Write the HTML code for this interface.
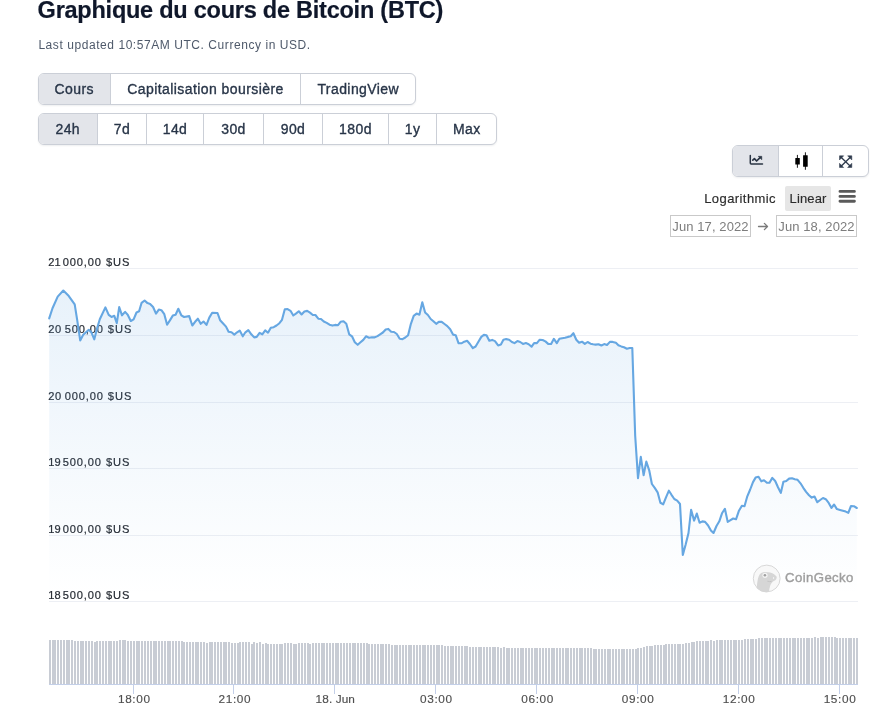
<!DOCTYPE html>
<html lang="fr">
<head>
<meta charset="utf-8">
<title>Graphique du cours de Bitcoin (BTC)</title>
<style>
*{box-sizing:border-box;margin:0;padding:0}
html,body{width:881px;height:722px;background:#fff;overflow:hidden}
body{position:relative;font-family:"Liberation Sans",sans-serif;color:#1e293b;-webkit-font-smoothing:antialiased}
.abs{position:absolute;white-space:nowrap}
h1{position:absolute;left:37.6px;top:-3.9px;-webkit-text-stroke:0.2px #0f172a;font-size:23.5px;line-height:28px;font-weight:700;color:#0f172a;letter-spacing:-0.24px;white-space:nowrap}
.sub{left:38.4px;top:37.4px;font-size:12px;line-height:16px;color:#4e596a;letter-spacing:0.56px}
.grp{position:absolute;height:32px;border:1px solid #cbcfd7;border-radius:6px;background:#fff;box-shadow:0 1px 2px rgba(15,23,42,.07);overflow:hidden}
.grp .c{position:absolute;top:0;height:30px;display:flex;align-items:center;justify-content:center;font-size:14px;color:#283548;letter-spacing:0.42px;-webkit-text-stroke:0.35px #283548;white-space:nowrap}
.grp .on{background:#e3e5ea}
.grp i{position:absolute;top:0;width:1px;height:30px;background:#cbcfd7}
.lg{font-size:13px;color:#2b2b2b;-webkit-text-stroke:0.15px #2b2b2b;letter-spacing:0.3px}
.dt{position:absolute;top:215px;height:22px;border:1px solid #c9c9c9;color:#7d7d7d;font-size:13px;line-height:21.2px;text-align:center;letter-spacing:0.1px;background:#fff}
svg text.yl{font-size:11.1px;fill:#262b33;stroke:#262b33;stroke-width:0.2px;white-space:pre}
svg text.xl{font-size:11.8px;fill:#4f4f4f;stroke:#4f4f4f;stroke-width:0.15px}
</style>
</head>
<body>
<h1>Graphique du cours de Bitcoin (BTC)</h1>
<div class="abs sub">Last updated 10:57AM UTC. Currency in USD.</div>

<div class="grp" style="left:38px;top:73px;width:378px">
<div class="c on" style="left:-1.00px;width:72.50px">Cours</div>
<div class="c" style="left:71.50px;width:190.00px">Capitalisation boursière</div>
<div class="c" style="left:261.50px;width:115.50px">TradingView</div>
<i style="left:71.00px"></i>
<i style="left:261.00px"></i>
</div>
<div class="grp" style="left:38px;top:113px;width:459px">
<div class="c on" style="left:-1.00px;width:59.50px">24h</div>
<div class="c" style="left:58.50px;width:49.00px">7d</div>
<div class="c" style="left:107.50px;width:57.00px">14d</div>
<div class="c" style="left:164.50px;width:60.00px">30d</div>
<div class="c" style="left:224.50px;width:59.00px">90d</div>
<div class="c" style="left:283.50px;width:66.00px">180d</div>
<div class="c" style="left:349.50px;width:48.00px">1y</div>
<div class="c" style="left:397.50px;width:60.50px">Max</div>
<i style="left:58.00px"></i>
<i style="left:107.00px"></i>
<i style="left:164.00px"></i>
<i style="left:224.00px"></i>
<i style="left:283.00px"></i>
<i style="left:349.00px"></i>
<i style="left:397.00px"></i>
</div>

<div class="grp" style="left:732px;top:145px;width:137px">
<div class="c on" style="left:-1.00px;width:46.50px"></div>
<div class="c" style="left:45.50px;width:44.00px"></div>
<div class="c" style="left:89.50px;width:46.50px"></div>
<i style="left:45.00px"></i>
<i style="left:89.00px"></i>
</div>

<div class="abs lg" style="left:704.2px;top:190.5px;line-height:16px;letter-spacing:0.42px">Logarithmic</div>
<div class="abs lg" style="left:785.2px;top:186.3px;width:45.8px;height:24.3px;background:#e6e6e6;border-radius:2px;line-height:24.3px;text-align:center;padding-top:0.3px;letter-spacing:0.15px">Linear</div>
<svg class="abs" style="left:838px;top:189px" width="19" height="15" viewBox="0 0 19 15"><path d="M2 2.4H16.4M2 7.4H16.4M2 12.3H16.4" stroke="#5a5a5a" stroke-width="2.9" stroke-linecap="round" fill="none"/></svg>

<div class="dt" style="left:670px;width:81px">Jun 17, 2022</div>
<svg class="abs" style="left:757px;top:221px" width="12" height="11" viewBox="0 0 12 11"><path d="M1.5 5.5H10.4M7.4 2.4L10.5 5.5L7.4 8.6" fill="none" stroke="#7a7a7a" stroke-width="1.3" stroke-linecap="round" stroke-linejoin="round"/></svg>
<div class="dt" style="left:776px;width:81px">Jun 18, 2022</div>

<svg class="abs" style="left:0;top:0" width="881" height="722" viewBox="0 0 881 722">
  <defs>
    <linearGradient id="ag" gradientUnits="userSpaceOnUse" x1="0" y1="270" x2="0" y2="596">
      <stop offset="0" stop-color="#5fa3e0" stop-opacity="0.155"/>
      <stop offset="1" stop-color="#5fa3e0" stop-opacity="0"/>
    </linearGradient>
  </defs>
  <path d="M49 268h809v1h-809zM49 335h809v1h-809zM49 402h809v1h-809zM49 468h809v1h-809zM49 535h809v1h-809zM49 601h809v1h-809z" fill="#edeff4" shape-rendering="crispEdges"/>
  <text x="48.3" y="266.0" class="yl"><tspan letter-spacing="0.0">21</tspan><tspan x="58.8" letter-spacing="0.85"> 000,00</tspan><tspan x="101.8" letter-spacing="1"> $US</tspan></text><text x="48.3" y="333.0" class="yl"><tspan letter-spacing="0.55">20</tspan><tspan x="60.8" letter-spacing="0.85"> 500,00</tspan><tspan x="103.7" letter-spacing="1"> $US</tspan></text><text x="48.3" y="400.0" class="yl"><tspan letter-spacing="0.55">20</tspan><tspan x="60.8" letter-spacing="0.85"> 000,00</tspan><tspan x="103.7" letter-spacing="1"> $US</tspan></text><text x="48.3" y="466.0" class="yl"><tspan letter-spacing="0.0">19</tspan><tspan x="58.8" letter-spacing="0.85"> 500,00</tspan><tspan x="101.8" letter-spacing="1"> $US</tspan></text><text x="48.3" y="533.0" class="yl"><tspan letter-spacing="0.0">19</tspan><tspan x="58.8" letter-spacing="0.85"> 000,00</tspan><tspan x="101.8" letter-spacing="1"> $US</tspan></text><text x="48.3" y="599.0" class="yl"><tspan letter-spacing="0.0">18</tspan><tspan x="58.8" letter-spacing="0.85"> 500,00</tspan><tspan x="101.8" letter-spacing="1"> $US</tspan></text>
  <path d="M49.2 318.4 L52.5 308.2 L57.7 296.6 L63.3 290.5 L68.8 296.1 L74.7 304.4 L77.1 319.3 L80.2 340.4 L83.2 334.8 L88.8 329.8 L91.5 332.6 L94.3 339.3 L97.1 328.2 L99.8 319.3 L105.4 307.4 L108.7 314.9 L111.5 316.9 L114.3 315.8 L116.8 323.2 L119.2 307.1 L122.0 315.3 L125.1 311.9 L127.7 314.7 L130.8 321.0 L133.6 319.3 L136.5 312.5 L139.1 311.3 L141.6 302.8 L144.6 300.5 L147.5 303.1 L150.1 303.9 L153.1 307.0 L156.0 313.6 L158.8 309.6 L161.4 310.2 L164.3 314.2 L167.1 324.7 L169.9 320.4 L172.8 315.6 L175.6 314.7 L178.3 308.8 L181.3 315.3 L184.1 317.0 L189.2 316.1 L192.3 325.5 L195.1 321.8 L197.9 318.7 L200.7 323.8 L203.5 321.5 L206.5 324.9 L209.3 317.6 L212.2 312.8 L217.5 313.0 L220.1 320.2 L222.9 323.2 L226.0 326.6 L228.6 331.8 L231.5 332.3 L234.3 334.6 L237.1 332.3 L239.7 330.6 L242.8 336.3 L245.4 332.3 L248.3 330.1 L251.3 334.3 L254.2 337.4 L256.7 336.9 L259.6 332.9 L262.3 334.3 L265.2 330.4 L268.0 332.7 L270.8 327.8 L273.7 327.2 L276.5 325.5 L279.4 323.2 L282.0 319.8 L284.8 309.3 L287.6 309.1 L290.5 310.8 L293.3 315.5 L296.2 313.4 L298.8 311.3 L301.6 314.5 L304.4 311.5 L307.2 310.9 L310.0 312.6 L312.8 315.0 L315.4 315.0 L318.3 318.7 L321.0 319.0 L323.8 321.5 L326.7 322.9 L329.5 324.7 L332.4 325.6 L335.2 324.9 L338.0 325.2 L340.6 321.8 L343.5 321.3 L346.3 323.8 L349.2 334.3 L352.0 336.3 L354.8 342.2 L357.7 344.8 L360.5 342.3 L363.3 339.9 L366.0 336.3 L369.0 337.7 L371.9 337.2 L374.7 337.4 L377.5 336.1 L380.1 334.3 L382.9 332.5 L385.7 329.5 L388.3 328.9 L391.2 331.8 L394.0 332.0 L396.8 334.0 L399.7 338.8 L402.5 339.1 L405.3 337.5 L408.1 335.2 L410.9 323.8 L413.7 315.9 L416.6 313.6 L419.4 314.7 L422.3 302.2 L425.1 312.5 L427.9 315.0 L430.7 319.0 L433.4 321.2 L436.2 323.8 L438.8 321.9 L441.7 321.9 L444.5 324.0 L447.3 326.1 L450.2 329.3 L453.0 334.6 L455.7 335.2 L458.6 343.3 L461.4 343.3 L464.3 341.7 L467.1 340.8 L469.9 344.0 L472.8 348.2 L475.6 346.5 L478.4 341.7 L481.3 336.9 L483.9 334.9 L486.5 335.2 L489.3 340.8 L492.2 339.9 L495.0 341.1 L498.1 345.4 L500.9 344.5 L503.4 339.8 L506.2 339.1 L509.1 339.7 L511.9 342.0 L514.5 343.1 L517.4 341.1 L520.2 342.0 L523.0 343.9 L525.9 343.1 L528.7 344.2 L531.6 346.7 L534.1 343.1 L536.9 343.1 L539.7 339.7 L542.6 340.0 L545.4 341.4 L548.2 343.9 L551.1 344.0 L553.9 338.8 L556.8 343.1 L559.4 338.8 L562.2 338.2 L565.0 337.8 L567.9 336.9 L570.7 336.3 L573.4 333.2 L576.3 339.7 L579.1 342.8 L582.0 341.7 L584.8 343.9 L587.6 342.0 L590.5 343.7 L593.1 344.2 L595.7 344.6 L598.5 344.2 L601.4 345.5 L604.2 344.1 L607.0 345.0 L609.9 341.9 L612.7 341.9 L615.9 342.7 L618.4 345.2 L621.2 346.4 L624.0 347.2 L626.9 348.7 L629.7 348.0 L632.3 348.0 L635.2 436.0 L638.0 478.2 L640.8 456.9 L643.6 475.2 L646.3 461.6 L649.3 470.7 L651.9 484.0 L654.9 488.2 L657.6 492.3 L660.4 502.8 L663.2 504.3 L666.0 497.3 L668.9 490.7 L671.5 494.8 L674.3 499.0 L677.2 500.6 L680.0 504.0 L682.8 555.0 L685.6 544.7 L688.5 533.0 L691.1 509.8 L694.1 520.6 L696.8 513.6 L699.6 522.7 L702.4 521.4 L705.1 521.9 L708.1 525.5 L710.9 530.5 L713.5 533.0 L716.5 526.0 L719.3 521.3 L722.0 513.3 L724.9 508.8 L727.7 521.9 L730.5 520.2 L733.2 518.5 L736.0 519.3 L738.8 511.1 L741.9 505.7 L744.5 506.3 L747.3 496.3 L750.2 489.5 L753.0 482.1 L755.6 477.6 L758.5 476.7 L761.3 481.3 L764.0 480.2 L766.9 482.7 L769.5 482.7 L772.3 477.9 L775.2 481.0 L778.0 487.2 L780.8 492.9 L783.4 481.8 L786.3 481.0 L789.1 478.6 L792.0 478.2 L794.8 479.2 L797.6 479.8 L800.5 483.3 L803.3 487.8 L806.1 491.9 L809.0 495.2 L811.7 497.6 L814.5 496.5 L817.3 502.2 L820.2 500.0 L823.0 498.0 L825.8 499.2 L828.7 502.9 L831.5 507.9 L834.1 504.5 L836.9 509.1 L840.0 509.9 L842.9 510.7 L845.7 511.6 L848.3 512.8 L851.0 506.0 L853.9 506.2 L856.8 508.0 L856.8 602 L49.2 602 Z" fill="url(#ag)" stroke="none"/>
  <path d="M49.2 318.4 L52.5 308.2 L57.7 296.6 L63.3 290.5 L68.8 296.1 L74.7 304.4 L77.1 319.3 L80.2 340.4 L83.2 334.8 L88.8 329.8 L91.5 332.6 L94.3 339.3 L97.1 328.2 L99.8 319.3 L105.4 307.4 L108.7 314.9 L111.5 316.9 L114.3 315.8 L116.8 323.2 L119.2 307.1 L122.0 315.3 L125.1 311.9 L127.7 314.7 L130.8 321.0 L133.6 319.3 L136.5 312.5 L139.1 311.3 L141.6 302.8 L144.6 300.5 L147.5 303.1 L150.1 303.9 L153.1 307.0 L156.0 313.6 L158.8 309.6 L161.4 310.2 L164.3 314.2 L167.1 324.7 L169.9 320.4 L172.8 315.6 L175.6 314.7 L178.3 308.8 L181.3 315.3 L184.1 317.0 L189.2 316.1 L192.3 325.5 L195.1 321.8 L197.9 318.7 L200.7 323.8 L203.5 321.5 L206.5 324.9 L209.3 317.6 L212.2 312.8 L217.5 313.0 L220.1 320.2 L222.9 323.2 L226.0 326.6 L228.6 331.8 L231.5 332.3 L234.3 334.6 L237.1 332.3 L239.7 330.6 L242.8 336.3 L245.4 332.3 L248.3 330.1 L251.3 334.3 L254.2 337.4 L256.7 336.9 L259.6 332.9 L262.3 334.3 L265.2 330.4 L268.0 332.7 L270.8 327.8 L273.7 327.2 L276.5 325.5 L279.4 323.2 L282.0 319.8 L284.8 309.3 L287.6 309.1 L290.5 310.8 L293.3 315.5 L296.2 313.4 L298.8 311.3 L301.6 314.5 L304.4 311.5 L307.2 310.9 L310.0 312.6 L312.8 315.0 L315.4 315.0 L318.3 318.7 L321.0 319.0 L323.8 321.5 L326.7 322.9 L329.5 324.7 L332.4 325.6 L335.2 324.9 L338.0 325.2 L340.6 321.8 L343.5 321.3 L346.3 323.8 L349.2 334.3 L352.0 336.3 L354.8 342.2 L357.7 344.8 L360.5 342.3 L363.3 339.9 L366.0 336.3 L369.0 337.7 L371.9 337.2 L374.7 337.4 L377.5 336.1 L380.1 334.3 L382.9 332.5 L385.7 329.5 L388.3 328.9 L391.2 331.8 L394.0 332.0 L396.8 334.0 L399.7 338.8 L402.5 339.1 L405.3 337.5 L408.1 335.2 L410.9 323.8 L413.7 315.9 L416.6 313.6 L419.4 314.7 L422.3 302.2 L425.1 312.5 L427.9 315.0 L430.7 319.0 L433.4 321.2 L436.2 323.8 L438.8 321.9 L441.7 321.9 L444.5 324.0 L447.3 326.1 L450.2 329.3 L453.0 334.6 L455.7 335.2 L458.6 343.3 L461.4 343.3 L464.3 341.7 L467.1 340.8 L469.9 344.0 L472.8 348.2 L475.6 346.5 L478.4 341.7 L481.3 336.9 L483.9 334.9 L486.5 335.2 L489.3 340.8 L492.2 339.9 L495.0 341.1 L498.1 345.4 L500.9 344.5 L503.4 339.8 L506.2 339.1 L509.1 339.7 L511.9 342.0 L514.5 343.1 L517.4 341.1 L520.2 342.0 L523.0 343.9 L525.9 343.1 L528.7 344.2 L531.6 346.7 L534.1 343.1 L536.9 343.1 L539.7 339.7 L542.6 340.0 L545.4 341.4 L548.2 343.9 L551.1 344.0 L553.9 338.8 L556.8 343.1 L559.4 338.8 L562.2 338.2 L565.0 337.8 L567.9 336.9 L570.7 336.3 L573.4 333.2 L576.3 339.7 L579.1 342.8 L582.0 341.7 L584.8 343.9 L587.6 342.0 L590.5 343.7 L593.1 344.2 L595.7 344.6 L598.5 344.2 L601.4 345.5 L604.2 344.1 L607.0 345.0 L609.9 341.9 L612.7 341.9 L615.9 342.7 L618.4 345.2 L621.2 346.4 L624.0 347.2 L626.9 348.7 L629.7 348.0 L632.3 348.0 L635.2 436.0 L638.0 478.2 L640.8 456.9 L643.6 475.2 L646.3 461.6 L649.3 470.7 L651.9 484.0 L654.9 488.2 L657.6 492.3 L660.4 502.8 L663.2 504.3 L666.0 497.3 L668.9 490.7 L671.5 494.8 L674.3 499.0 L677.2 500.6 L680.0 504.0 L682.8 555.0 L685.6 544.7 L688.5 533.0 L691.1 509.8 L694.1 520.6 L696.8 513.6 L699.6 522.7 L702.4 521.4 L705.1 521.9 L708.1 525.5 L710.9 530.5 L713.5 533.0 L716.5 526.0 L719.3 521.3 L722.0 513.3 L724.9 508.8 L727.7 521.9 L730.5 520.2 L733.2 518.5 L736.0 519.3 L738.8 511.1 L741.9 505.7 L744.5 506.3 L747.3 496.3 L750.2 489.5 L753.0 482.1 L755.6 477.6 L758.5 476.7 L761.3 481.3 L764.0 480.2 L766.9 482.7 L769.5 482.7 L772.3 477.9 L775.2 481.0 L778.0 487.2 L780.8 492.9 L783.4 481.8 L786.3 481.0 L789.1 478.6 L792.0 478.2 L794.8 479.2 L797.6 479.8 L800.5 483.3 L803.3 487.8 L806.1 491.9 L809.0 495.2 L811.7 497.6 L814.5 496.5 L817.3 502.2 L820.2 500.0 L823.0 498.0 L825.8 499.2 L828.7 502.9 L831.5 507.9 L834.1 504.5 L836.9 509.1 L840.0 509.9 L842.9 510.7 L845.7 511.6 L848.3 512.8 L851.0 506.0 L853.9 506.2 L856.8 508.0" fill="none" stroke="#66a7e2" stroke-width="2.1" stroke-linejoin="round" stroke-linecap="round"/>
  <path d="M49 684V640h2V684zM52 684V640h2V684zM54 684V640h2V684zM57 684V640h2V684zM60 684V640h2V684zM63 684V640h2V684zM66 684V640h2V684zM68 684V640h2V684zM71 684V640h2V684zM74 684V641h2V684zM77 684V641h2V684zM80 684V641h2V684zM82 684V641h2V684zM85 684V641h2V684zM88 684V641h2V684zM91 684V641h2V684zM94 684V642h2V684zM96 684V641h2V684zM99 684V641h2V684zM102 684V641h2V684zM105 684V641h2V684zM108 684V641h2V684zM110 684V641h2V684zM113 684V641h2V684zM116 684V641h2V684zM119 684V640h2V684zM122 684V640h2V684zM124 684V640h2V684zM127 684V641h2V684zM130 684V641h2V684zM133 684V641h2V684zM136 684V641h2V684zM138 684V641h2V684zM141 684V641h2V684zM144 684V641h2V684zM147 684V641h2V684zM150 684V641h2V684zM153 684V641h2V684zM155 684V641h2V684zM158 684V641h2V684zM161 684V641h2V684zM164 684V641h2V684zM167 684V641h2V684zM169 684V641h2V684zM172 684V641h2V684zM175 684V641h2V684zM178 684V641h2V684zM181 684V641h2V684zM183 684V642h2V684zM186 684V642h2V684zM189 684V642h2V684zM192 684V642h2V684zM195 684V642h2V684zM197 684V642h2V684zM200 684V642h2V684zM203 684V642h2V684zM206 684V643h2V684zM209 684V642h2V684zM211 684V642h2V684zM214 684V642h2V684zM217 684V642h2V684zM220 684V642h2V684zM223 684V642h2V684zM225 684V642h2V684zM228 684V642h2V684zM231 684V643h2V684zM234 684V643h2V684zM237 684V643h2V684zM239 684V642h2V684zM242 684V642h2V684zM245 684V642h2V684zM248 684V642h2V684zM251 684V644h2V684zM253 684V642h2V684zM256 684V643h2V684zM259 684V642h2V684zM262 684V644h2V684zM265 684V643h2V684zM267 684V644h2V684zM270 684V644h2V684zM273 684V644h2V684zM276 684V644h2V684zM279 684V644h2V684zM281 684V644h2V684zM284 684V643h2V684zM287 684V643h2V684zM290 684V643h2V684zM293 684V644h2V684zM295 684V644h2V684zM298 684V643h2V684zM301 684V643h2V684zM304 684V643h2V684zM307 684V643h2V684zM309 684V644h2V684zM312 684V643h2V684zM315 684V643h2V684zM318 684V643h2V684zM321 684V643h2V684zM323 684V643h2V684zM326 684V643h2V684zM329 684V643h2V684zM332 684V643h2V684zM335 684V643h2V684zM337 684V643h2V684zM340 684V643h2V684zM343 684V643h2V684zM346 684V643h2V684zM349 684V643h2V684zM352 684V643h2V684zM354 684V643h2V684zM357 684V643h2V684zM360 684V643h2V684zM363 684V643h2V684zM366 684V643h2V684zM368 684V644h2V684zM371 684V644h2V684zM374 684V644h2V684zM377 684V644h2V684zM380 684V644h2V684zM382 684V644h2V684zM385 684V644h2V684zM388 684V644h2V684zM391 684V645h2V684zM394 684V645h2V684zM396 684V645h2V684zM399 684V645h2V684zM402 684V645h2V684zM405 684V645h2V684zM408 684V645h2V684zM410 684V645h2V684zM413 684V645h2V684zM416 684V645h2V684zM419 684V645h2V684zM422 684V645h2V684zM424 684V645h2V684zM427 684V645h2V684zM430 684V645h2V684zM433 684V645h2V684zM436 684V645h2V684zM438 684V645h2V684zM441 684V645h2V684zM444 684V646h2V684zM447 684V646h2V684zM450 684V646h2V684zM452 684V646h2V684zM455 684V646h2V684zM458 684V646h2V684zM461 684V646h2V684zM464 684V646h2V684zM466 684V646h2V684zM469 684V647h2V684zM472 684V647h2V684zM475 684V647h2V684zM478 684V647h2V684zM480 684V647h2V684zM483 684V647h2V684zM486 684V647h2V684zM489 684V647h2V684zM492 684V647h2V684zM494 684V647h2V684zM497 684V647h2V684zM500 684V648h2V684zM503 684V647h2V684zM506 684V648h2V684zM508 684V648h2V684zM511 684V648h2V684zM514 684V648h2V684zM517 684V648h2V684zM520 684V648h2V684zM522 684V648h2V684zM525 684V648h2V684zM528 684V648h2V684zM531 684V648h2V684zM534 684V648h2V684zM536 684V648h2V684zM539 684V648h2V684zM542 684V648h2V684zM545 684V648h2V684zM548 684V648h2V684zM551 684V648h2V684zM553 684V648h2V684zM556 684V648h2V684zM559 684V648h2V684zM562 684V648h2V684zM565 684V648h2V684zM567 684V648h2V684zM570 684V648h2V684zM573 684V648h2V684zM576 684V648h2V684zM579 684V648h2V684zM581 684V648h2V684zM584 684V648h2V684zM587 684V648h2V684zM590 684V648h2V684zM593 684V649h2V684zM595 684V649h2V684zM598 684V649h2V684zM601 684V649h2V684zM604 684V649h2V684zM607 684V649h2V684zM609 684V649h2V684zM612 684V649h2V684zM615 684V649h2V684zM618 684V649h2V684zM621 684V649h2V684zM623 684V649h2V684zM626 684V649h2V684zM629 684V649h2V684zM632 684V649h2V684zM635 684V649h2V684zM637 684V648h2V684zM640 684V648h2V684zM643 684V647h2V684zM646 684V646h2V684zM649 684V646h2V684zM651 684V646h2V684zM654 684V645h2V684zM657 684V645h2V684zM660 684V645h2V684zM663 684V645h2V684zM665 684V644h2V684zM668 684V644h2V684zM671 684V644h2V684zM674 684V644h2V684zM677 684V644h2V684zM679 684V644h2V684zM682 684V644h2V684zM685 684V643h2V684zM688 684V643h2V684zM691 684V642h2V684zM693 684V642h2V684zM696 684V641h2V684zM699 684V641h2V684zM702 684V641h2V684zM705 684V641h2V684zM707 684V641h2V684zM710 684V640h2V684zM713 684V641h2V684zM716 684V640h2V684zM719 684V640h2V684zM721 684V640h2V684zM724 684V640h2V684zM727 684V640h2V684zM730 684V640h2V684zM733 684V640h2V684zM735 684V640h2V684zM738 684V640h2V684zM741 684V640h2V684zM744 684V639h2V684zM747 684V639h2V684zM750 684V639h2V684zM752 684V639h2V684zM755 684V639h2V684zM758 684V638h2V684zM761 684V638h2V684zM764 684V638h2V684zM766 684V638h2V684zM769 684V638h2V684zM772 684V638h2V684zM775 684V638h2V684zM778 684V638h2V684zM780 684V638h2V684zM783 684V638h2V684zM786 684V638h2V684zM789 684V638h2V684zM792 684V638h2V684zM794 684V638h2V684zM797 684V638h2V684zM800 684V638h2V684zM803 684V638h2V684zM806 684V638h2V684zM808 684V638h2V684zM811 684V638h2V684zM814 684V637h2V684zM817 684V638h2V684zM820 684V637h2V684zM822 684V637h2V684zM825 684V637h2V684zM828 684V637h2V684zM831 684V637h2V684zM834 684V637h2V684zM836 684V638h2V684zM839 684V638h2V684zM842 684V638h2V684zM845 684V638h2V684zM848 684V638h2V684zM850 684V638h2V684zM853 684V638h2V684zM856 684V638h2V684z" fill="#c8ccd4" shape-rendering="crispEdges"/>
  <path d="M49 684h809v1h-809zM133 685h1v9h-1zM233 685h1v9h-1zM334 685h1v9h-1zM435 685h1v9h-1zM536 685h1v9h-1zM637 685h1v9h-1zM738 685h1v9h-1zM839 685h1v9h-1z" fill="#c3cfe8" shape-rendering="crispEdges"/><text x="134.3" y="703" text-anchor="middle" class="xl" letter-spacing="0.62">18:00</text><text x="234.9" y="703" text-anchor="middle" class="xl" letter-spacing="0.62">21:00</text><text x="335.3" y="703" text-anchor="middle" class="xl" letter-spacing="0.12">18. Jun</text><text x="436.4" y="703" text-anchor="middle" class="xl" letter-spacing="0.62">03:00</text><text x="537.6" y="703" text-anchor="middle" class="xl" letter-spacing="0.62">06:00</text><text x="638.1" y="703" text-anchor="middle" class="xl" letter-spacing="0.62">09:00</text><text x="739.1" y="703" text-anchor="middle" class="xl" letter-spacing="0.62">12:00</text><text x="840.0" y="703" text-anchor="middle" class="xl" letter-spacing="0.62">15:00</text>
  <g id="icons">
    <path d="M750.3 155.5V163.1Q750.3 163.9 751.1 163.9H762.5" fill="none" stroke="#2a3443" stroke-width="1.5" stroke-linecap="round"/>
    <path d="M752.8 160.1L754.4 158.7L756.6 161L759.8 157.9" fill="none" stroke="#2a3443" stroke-width="1.7" stroke-linecap="round" stroke-linejoin="round"/>
    <path d="M758.2 156.3H761.8V159.8Z" fill="#2a3443" stroke="#2a3443" stroke-width="0.5" stroke-linejoin="round"/>
    <path d="M797.4 154.9V167.8M805.4 152.3V169.8" stroke="#000" stroke-width="0.9" fill="none"/>
    <rect x="795.3" y="158" width="4.5" height="6.6" rx="0.3" fill="#000"/>
    <rect x="803.1" y="155.3" width="4.6" height="11.5" rx="0.3" fill="#000"/>
    <g fill="#2f3b4d" stroke="#2f3b4d" stroke-width="0.5" stroke-linejoin="round">
      <path d="M839.5 155.8H843.7L839.5 160Z"/>
      <path d="M851.8 155.8V160L847.6 155.8Z"/>
      <path d="M851.8 167.5H847.6L851.8 163.3Z"/>
      <path d="M839.5 167.5V163.3L843.7 167.5Z"/>
    </g>
    <path d="M840.8 157L850.6 166.4M850.6 157L840.8 166.4" stroke="#2f3b4d" stroke-width="1.35" fill="none"/>
  </g>
  <g>
    <circle cx="766.7" cy="578.5" r="13.4" fill="#f8f8f8" stroke="#d8d8d8" stroke-width="1"/>
    <path d="M756.8 588.2C757 585 757.2 582 758 578.5C758.8 575 760.2 572.7 763.2 572.2C765.6 571.9 768.2 572.2 770.2 572.5C772.2 572.9 773.8 574 775.2 575.2C776.3 576.1 776.9 576.8 776.7 577.6C776.5 578.8 776.3 579.4 775.6 580C774.8 580.7 774 581 773 581.4C771.6 582.6 770.8 584 770.2 585.8C769.5 587.8 769.2 589.6 769 591.8A13.4 13.4 0 0 1 756.8 588.2Z" fill="#d6d6d6"/>
    <path d="M767.3 581.2Q769.5 581.9 771.6 581.4" stroke="#bdbdbd" stroke-width="0.7" fill="none"/>
    <circle cx="765" cy="575.3" r="2.6" fill="#f4f4f4"/>
    <circle cx="764.9" cy="575.3" r="1.3" fill="#a0a0a0"/>
    <ellipse cx="773.6" cy="578.1" rx="0.6" ry="1" fill="#f4f4f4"/>
    <text x="785" y="581.9" font-size="13.2" font-weight="400" fill="#9e9e9e" stroke="#9e9e9e" stroke-width="0.4" letter-spacing="0.4">CoinGecko</text>
  </g>
</svg>
</body>
</html>
